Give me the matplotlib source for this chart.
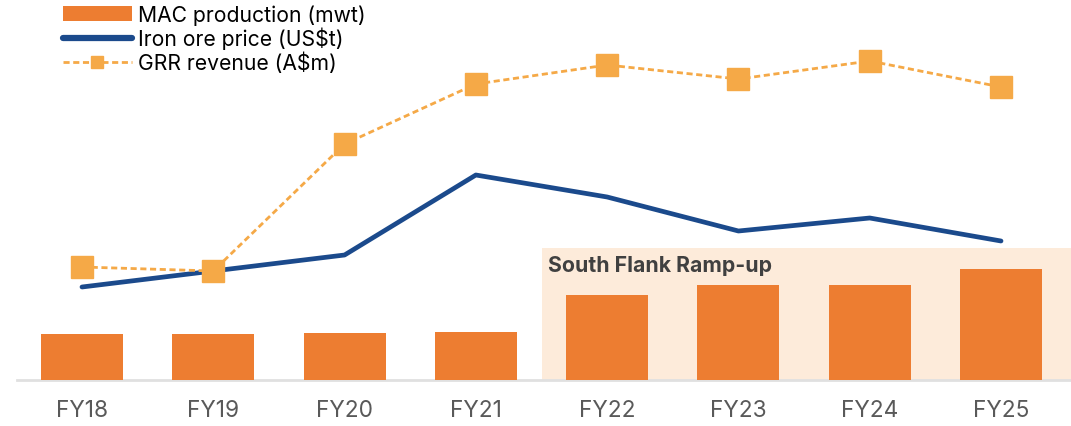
import matplotlib.pyplot as plt
from matplotlib.lines import Line2D
from matplotlib.patches import Patch

# data (arbitrary common scale)
years = ['FY18', 'FY19', 'FY20', 'FY21', 'FY22', 'FY23', 'FY24', 'FY25']
mac_production = [46, 46, 47, 48, 85, 95, 95, 111]
iron_ore_price = [93, 109, 125, 205, 183, 149, 162, 139]
grr_revenue = [113, 109, 236, 296, 315, 301, 319, 293]

orange = '#ED7D31'
blue = '#1B4A8C'
light_orange = '#F5A947'
shade = '#FDEBDA'

plt.rcParams['font.family'] = ['Inter', 'DejaVu Sans']

fig = plt.figure(figsize=(10.71, 4.27), dpi=100)
ax = fig.add_axes([17/1071, 46/427, 1054/1071, 380/427])

x = list(range(len(years)))

# shaded ramp-up area
ax.axvspan(3.5, 7.6, ymin=0, ymax=132/380, color=shade, lw=0, zorder=0)
ax.text(3.55, 115, 'South Flank Ramp-up', fontsize=15.3, fontweight='bold',
        color='#404040', va='center', ha='left', zorder=3)

ax.bar(x, mac_production, width=0.625, color=orange, zorder=2)
ax.plot(x, iron_ore_price, color=blue, lw=3.4, solid_capstyle='round', zorder=4)
ax.plot(x, grr_revenue, color=light_orange, lw=2.0, ls=(0, (2.2, 1.3)),
        marker='s', markersize=16, zorder=5)

ax.set_xlim(-0.495, 7.533)
ax.set_ylim(0, 380)

ax.axhline(0, color='#E0E0E0', lw=2, zorder=1, clip_on=False)

# spines / ticks
for s in ax.spines.values():
    s.set_visible(False)
ax.set_yticks([])
ax.set_xticks(x)
ax.set_xticklabels(years, fontsize=16.3, color='#595959')
ax.tick_params(axis='x', length=0, pad=14)

# legend
handles = [
    Patch(facecolor=orange, edgecolor='none'),
    Line2D([], [], color=blue, lw=4.5, solid_capstyle='round'),
    Line2D([], [], color=light_orange, lw=2.0, ls=(0, (2.2, 1.3)), marker='s', markersize=8),
]
labels = ['MAC production (mwt)', 'Iron ore price (US$t)', 'GRR revenue (A$m)']
fig.legend(handles, labels, loc='upper left', bbox_to_anchor=(61/1071, 1 - 3/427),
           frameon=False, fontsize=15.2, handlelength=3.25, handleheight=0.75,
           handletextpad=0.3, labelspacing=0.11, borderaxespad=0, borderpad=0.1)

fig.savefig('out.png', dpi=100)
